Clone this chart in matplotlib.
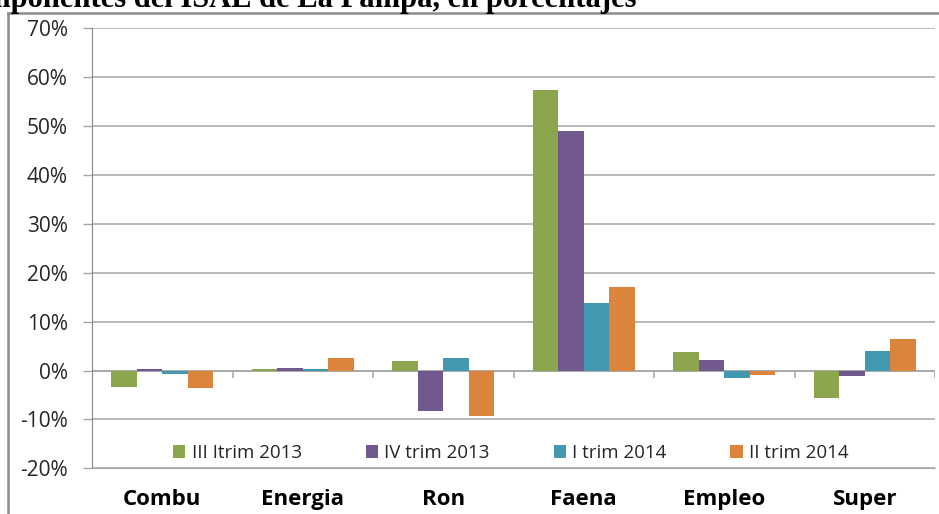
import numpy as np
import matplotlib.pyplot as plt
from matplotlib.lines import Line2D

# datos del grafico (variaciones en %)
categorias = ["Combu", "Energia", "Ron", "Faena", "Empleo", "Super"]
series = ["III Itrim 2013", "IV trim 2013", "I trim 2014", "II trim 2014"]
iii_2013 = [-3.3, 0.3, 1.9, 57.4, 3.7, -5.7]
iv_2013 = [0.3, 0.6, -8.2, 49.0, 2.1, -1.2]
i_2014 = [-0.7, 0.3, 2.5, 13.9, -1.5, 3.9]
ii_2014 = [-3.6, 2.5, -9.3, 17.1, -1.0, 6.4]
colores = ["#8BA64C", "#71598F", "#4198AF", "#DB843D"]
y_ticks = [-20, -10, 0, 10, 20, 30, 40, 50, 60, 70]

titulo = "Componentes del ISAE de La Pampa, en porcentajes"

W, H = 939, 514
fig = plt.figure(figsize=(W / 100, H / 100), dpi=100)
ax = fig.add_axes([92 / W, 1 - 468.3 / H, (935 - 92) / W, (468.3 - 28.3) / H])

plt.rcParams['font.family'] = ['Open Sans', 'DejaVu Sans']

x = np.arange(len(categorias))
ancho = 0.182
valores = [iii_2013, iv_2013, i_2014, ii_2014]
for k, (vals, nombre, col) in enumerate(zip(valores, series, colores)):
    ax.bar(x + (k - 1.5) * ancho, vals, width=ancho, color=col, label=nombre, zorder=3)

grid_col = "#A6A6A6"
ax.set_ylim(-20, 70)
ax.set_xlim(-0.5, len(categorias) - 0.5)
ax.set_yticks(y_ticks)
ax.set_yticklabels([f"{v}%" for v in y_ticks], family="Open Sans", fontsize=15, color="#262626")
ax.yaxis.grid(True, color=grid_col, linewidth=1.1, zorder=0)
ax.tick_params(axis="y", length=6.5, width=1, color=grid_col, pad=11)

# eje de categorias en 0%
ax.axhline(0, color=grid_col, linewidth=1.1, zorder=2)
ax.vlines(np.arange(-0.5, len(categorias), 1), -1.6, 0, color=grid_col, linewidth=1.1, zorder=2)

ax.set_xticks(x)
ax.set_xticklabels(categorias, family="Open Sans", fontweight="bold", fontsize=16)
ax.tick_params(axis="x", length=0, pad=15)

for s in ["top", "right"]:
    ax.spines[s].set_visible(False)
ax.spines["left"].set_color("#868686")
ax.spines["bottom"].set_color(grid_col)

leg = ax.legend(loc="center", bbox_to_anchor=(0.497, 0.035), ncol=4, frameon=False,
                handlelength=0.65, handleheight=0.65, handletextpad=0.35,
                columnspacing=3.4, prop={"family": "Open Sans", "size": 13.5})
for t in leg.get_texts():
    t.set_color("#262626")

# borde del grafico
fig.add_artist(Line2D([8 / W, 1], [1 - 12.7 / H, 1 - 12.7 / H], color="#8C8C8C", linewidth=1.8))
fig.add_artist(Line2D([8 / W, 8 / W], [0, 1 - 12.7 / H], color="#8C8C8C", linewidth=1.8))

# titulo recortado arriba y a la izquierda, como en el original
fig.text(637 / W, 1 - 7.5 / H, titulo, ha="right", va="baseline",
         family="Liberation Serif", fontweight="bold", fontsize=22)

fig.savefig("out.png", dpi=100)
